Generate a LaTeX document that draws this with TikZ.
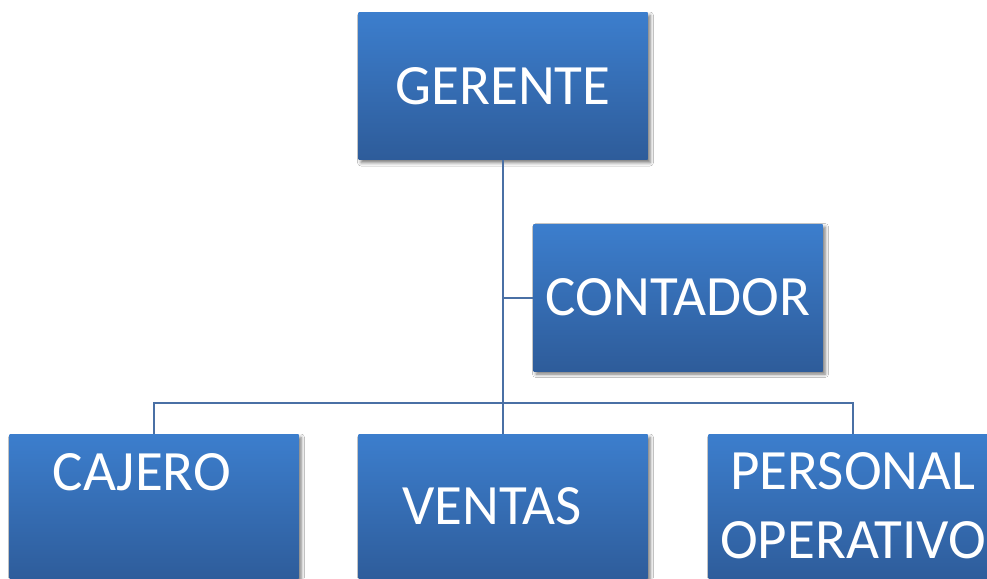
\documentclass[tikz,border=0pt]{standalone}
\usepackage{fontspec}
\setmainfont{Carlito}
\usepackage{tikz}
\usetikzlibrary{shadows.blur}
\definecolor{boxtop}{RGB}{60,126,205}
\definecolor{boxbottom}{RGB}{46,92,154}
\definecolor{wire}{RGB}{74,112,165}

\begin{document}
\begin{tikzpicture}[x=1pt,y=-1pt,
      every node/.append style={font=\fontsize{57}{69}\selectfont,text=white}]
    \tikzstyle{post} = [rectangle,minimum width=289pt,minimum height=147pt,inner sep=0pt,
      top color=boxtop,bottom color=boxbottom,
      blur shadow={shadow xshift=2.5pt,shadow yshift=-3pt,shadow blur radius=3.5pt,shadow opacity=55}]
    \tikzstyle{word} = [inner sep=0pt,align=center]
    \tikzstyle{link} = [draw=wire,line width=2pt]
    \useasboundingbox (0,0) rectangle (987,578);
    \clip (0,0) rectangle (987,578);
    \fill[white] (0,0) rectangle (987,578);
    \node (gerente) [post] at (503,86) {GERENTE};
    \node (contador) [post] at (678,297.5) {CONTADOR};
    \node (cajero) [post] at (154,508) {};
    \node (ventas) [post] at (503,508) {};
    \node (personal) [post] at (853,508) {};
    \node [word] at (142,472) {CAJERO};
    \node [word] at (492,506) {VENTAS};
    \node [word] at (853,506) {PERSONAL\\OPERATIVO};
    \coordinate (bus) at (503,403);
    \draw[link] (gerente.south) -- (bus);
    \draw[link] (gerente.south) |- (contador.west);
    \draw[link] (bus) -| (cajero.north);
    \draw[link] (bus) -- (ventas.north);
    \draw[link] (bus) -| (personal.north);
\end{tikzpicture}
\end{document}
